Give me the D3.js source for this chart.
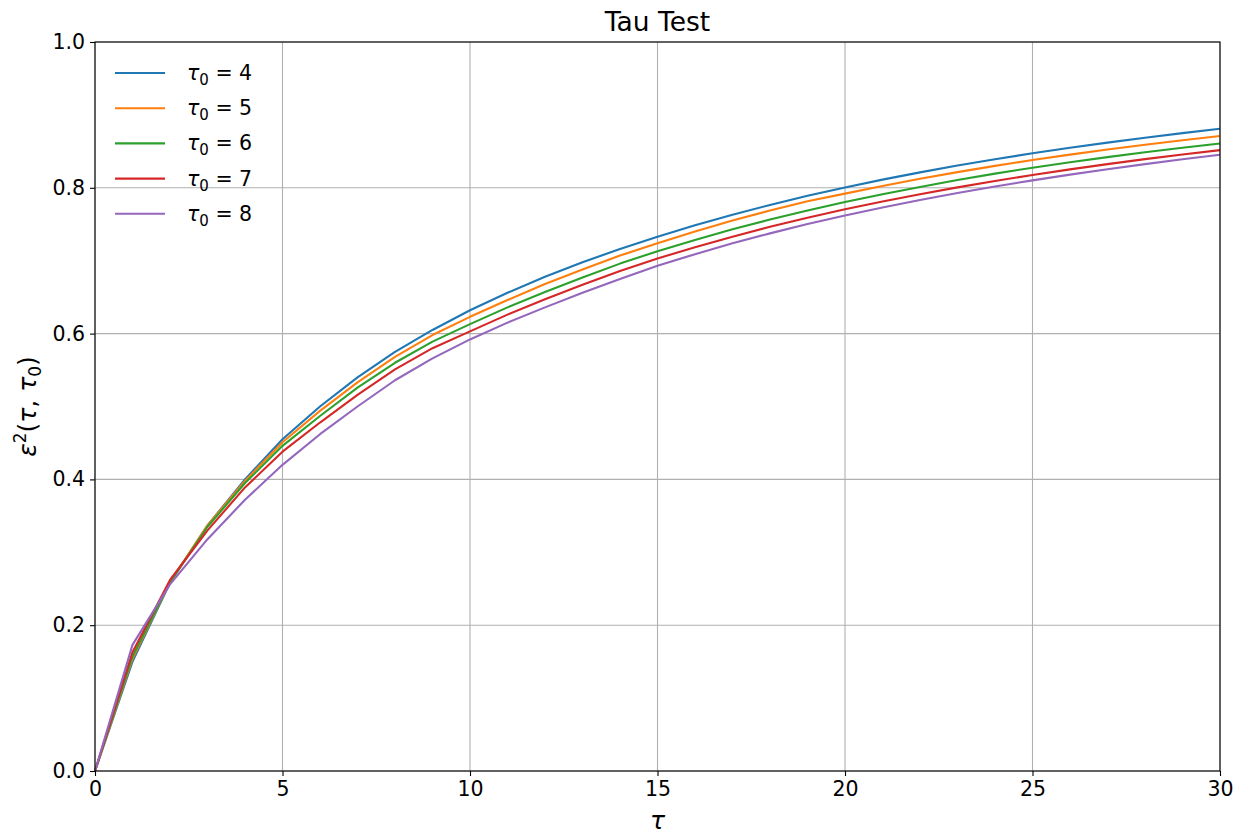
<!DOCTYPE html>
<html>
<head>
<meta charset="utf-8">
<script src="https://cdn.jsdelivr.net/npm/d3@7"></script>
<style>
  body { margin: 0; background: #fff; }
  text { font-family: "DejaVu Sans", sans-serif; fill: #000; }
</style>
</head>
<body>
<script>
// values, tau = 0..30
const tau = d3.range(0, 31);
const tau0Labels = [4, 5, 6, 7, 8];
const colors = ['#1f77b4', '#ff7f0e', '#2ca02c', '#d62728', '#9467bd'];

const eps4 = [0, 0.150, 0.258, 0.337, 0.400, 0.455, 0.500, 0.540, 0.575, 0.605, 0.632,
  0.656, 0.678, 0.698, 0.716, 0.733, 0.7485, 0.763, 0.7765, 0.789, 0.8005,
  0.8112, 0.8212, 0.8305, 0.8392, 0.8473, 0.8549, 0.862, 0.8687, 0.875, 0.881];
const eps5 = [0, 0.154, 0.259, 0.337, 0.398, 0.451, 0.494, 0.533, 0.568, 0.598, 0.623,
  0.646, 0.668, 0.688, 0.707, 0.724, 0.740, 0.755, 0.7688, 0.7816, 0.792,
  0.8025, 0.8123, 0.8215, 0.8301, 0.8381, 0.8455, 0.8525, 0.8591, 0.8653, 0.8711];
const eps6 = [0, 0.157, 0.259, 0.335, 0.395, 0.446, 0.487, 0.526, 0.560, 0.589, 0.613,
  0.636, 0.657, 0.677, 0.696, 0.713, 0.7285, 0.743, 0.7565, 0.769, 0.7805,
  0.7912, 0.8012, 0.8106, 0.8194, 0.8276, 0.8351, 0.8421, 0.8487, 0.8549, 0.8607];
const eps7 = [0, 0.163, 0.262, 0.330, 0.389, 0.438, 0.478, 0.516, 0.551, 0.580, 0.603,
  0.626, 0.647, 0.667, 0.686, 0.703, 0.7185, 0.733, 0.7465, 0.759, 0.7705,
  0.7812, 0.7912, 0.8006, 0.8094, 0.8176, 0.8253, 0.8325, 0.8393, 0.8457, 0.8517];
const eps8 = [0, 0.173, 0.256, 0.318, 0.372, 0.420, 0.462, 0.500, 0.536, 0.566, 0.592,
  0.615, 0.636, 0.656, 0.675, 0.693, 0.709, 0.7238, 0.7375, 0.7502, 0.762,
  0.773, 0.7832, 0.7928, 0.8018, 0.8102, 0.8181, 0.8255, 0.8325, 0.8391, 0.8453];

const xTicks = [0, 5, 10, 15, 20, 25, 30];
const yTicks = [0, 0.2, 0.4, 0.6, 0.8, 1.0];

const W = 1244, H = 836;
const margin = { left: 95, right: 24, top: 42, bottom: 65 };
const iw = W - margin.left - margin.right;
const ih = H - margin.top - margin.bottom;

const svg = d3.select('body').append('svg')
  .attr('width', W).attr('height', H);

const x = d3.scaleLinear().domain([0, 30]).range([0, iw]);
const y = d3.scaleLinear().domain([0, 1]).range([ih, 0]);

const g = svg.append('g').attr('transform', `translate(${margin.left},${margin.top})`);

// grid
g.append('g').selectAll('line').data(xTicks).join('line')
  .attr('x1', d => x(d)).attr('x2', d => x(d)).attr('y1', 0).attr('y2', ih)
  .attr('stroke', '#b0b0b0').attr('stroke-width', 1.1);
g.append('g').selectAll('line').data(yTicks).join('line')
  .attr('y1', d => y(d)).attr('y2', d => y(d)).attr('x1', 0).attr('x2', iw)
  .attr('stroke', '#b0b0b0').attr('stroke-width', 1.1);

// lines
const series = [eps4, eps5, eps6, eps7, eps8];
const line = d3.line().x((d, i) => x(tau[i])).y(d => y(d));
g.append('g').selectAll('path').data(series).join('path')
  .attr('d', line)
  .attr('fill', 'none')
  .attr('stroke', (d, i) => colors[i])
  .attr('stroke-width', 2.1)
  .attr('stroke-linejoin', 'round');

// axes
const xAxis = g.append('g').attr('transform', `translate(0,${ih})`)
  .call(d3.axisBottom(x).tickValues(xTicks).tickSize(5).tickPadding(5).tickFormat(d3.format('d')));
const yAxis = g.append('g')
  .call(d3.axisLeft(y).tickValues(yTicks).tickSize(5).tickPadding(5).tickFormat(d3.format('.1f')));
[xAxis, yAxis].forEach(a => {
  a.select('.domain').remove();
  a.attr('font-size', null).attr('font-family', null);
  a.selectAll('text').style('font-size', '20.5px');
  a.selectAll('line').attr('stroke', '#000').attr('stroke-width', 1.1);
});

// frame
g.append('rect').attr('width', iw).attr('height', ih)
  .attr('fill', 'none').attr('stroke', '#000').attr('stroke-width', 1.1);

// title
svg.append('text').attr('x', margin.left + iw / 2).attr('y', 31)
  .attr('text-anchor', 'middle').style('font-size', '26.5px').text('Tau Test');

// x label
svg.append('text').attr('x', margin.left + iw / 2).attr('y', 829)
  .attr('text-anchor', 'middle').style('font-size', '25px').style('font-style', 'italic').text('τ');

// y label
const yl = svg.append('text')
  .attr('transform', `translate(36,${margin.top + ih / 2}) rotate(-90)`)
  .attr('text-anchor', 'middle').style('font-size', '25px');
yl.append('tspan').style('font-style', 'italic').text('ε');
yl.append('tspan').attr('dy', -10).style('font-size', '17px').text('2');
yl.append('tspan').attr('dy', 10).text('(');
yl.append('tspan').style('font-style', 'italic').text('τ');
yl.append('tspan').text(', ');
yl.append('tspan').style('font-style', 'italic').text('τ');
yl.append('tspan').attr('dy', 5).style('font-size', '17px').text('0');
yl.append('tspan').attr('dy', -5).text(')');

// legend, no frame
const leg = g.append('g').attr('transform', 'translate(20,31)');
const item = leg.selectAll('g').data(tau0Labels).join('g')
  .attr('transform', (d, i) => `translate(0,${i * 35.2})`);
item.append('line').attr('x1', 0).attr('x2', 50)
  .attr('stroke', (d, i) => colors[i]).attr('stroke-width', 2.1);
const lt = item.append('text').attr('x', 72).attr('y', 7).style('font-size', '20.5px');
lt.append('tspan').style('font-style', 'italic').text('τ');
lt.append('tspan').attr('dy', 5).style('font-size', '15px').text('0');
lt.append('tspan').attr('dy', -5).text(d => ' = ' + d);
</script>
</body>
</html>
